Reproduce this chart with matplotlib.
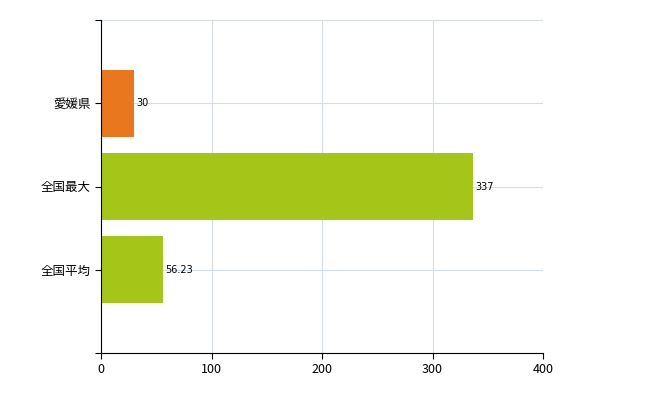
import matplotlib.pyplot as plt

plt.rcParams['font.family'] = ['Noto Sans CJK JP', 'DejaVu Sans']

categories = ['全国平均', '全国最大', '愛媛県']
values = [56.23, 337, 30]
labels = ['56.23', '337', '30']
colors = ['#a5c619', '#a5c619', '#e8771e']

fig = plt.figure(figsize=(6.5, 4.0), dpi=100)
ax = fig.add_axes([101 / 650, 47 / 400, 442 / 650, 333 / 400])

pos = list(range(len(categories)))
ax.barh(pos, values, height=0.8, color=colors, zorder=2)
for p, v, t in zip(pos, values, labels):
    ax.text(v + 2, p, t, va='center', ha='left', fontsize=7, family='DejaVu Sans', zorder=3)

ax.set_xlim(0, 400)
ax.set_ylim(-1, 3)
ax.set_xticks([0, 100, 200, 300, 400])
ax.set_yticks([-1, 0, 1, 2, 3])
ax.set_yticklabels([''] + categories + [''], fontsize=9)
ax.tick_params(axis='x', labelsize=9, length=4)
ax.tick_params(axis='y', length=4)
ax.grid(True, color='#d4dce6', linewidth=0.8, zorder=0)
for s in ['top', 'right']:
    ax.spines[s].set_visible(False)

fig.savefig('out.png', dpi=100)
